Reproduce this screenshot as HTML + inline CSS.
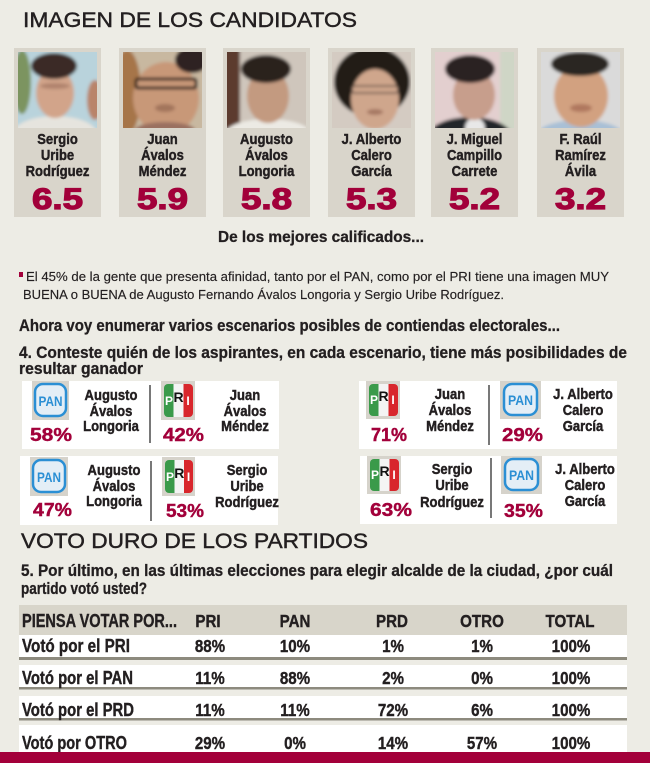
<!DOCTYPE html>
<html>
<head>
<meta charset="utf-8">
<style>
html,body{margin:0;padding:0;background:#edece5;}
body{width:650px;height:763px;overflow:hidden;}
svg{display:block;}
</style>
</head>
<body>
<svg width="650" height="763" viewBox="0 0 650 763" xmlns="http://www.w3.org/2000/svg" font-family="'Liberation Sans', Arial, sans-serif">
<defs>
  <filter id="bl" x="-10%" y="-10%" width="120%" height="120%"><feGaussianBlur stdDeviation="1.6"/></filter>
  <clipPath id="p1"><rect x="18" y="52" width="79" height="76"/></clipPath>
  <clipPath id="p2"><rect x="123" y="52" width="79" height="76"/></clipPath>
  <clipPath id="p3"><rect x="227" y="52" width="79" height="76"/></clipPath>
  <clipPath id="p4"><rect x="332" y="52" width="79" height="76"/></clipPath>
  <clipPath id="p5"><rect x="435" y="52" width="79" height="76"/></clipPath>
  <clipPath id="p6"><rect x="541" y="52" width="79" height="76"/></clipPath>
</defs>

<rect width="650" height="763" fill="#edece5"/>

<!-- Title -->
<text x="23" y="27" font-size="21.5" fill="#231f20" stroke="#231f20" stroke-width="0.45" textLength="334" lengthAdjust="spacingAndGlyphs">IMAGEN DE LOS CANDIDATOS</text>

<!-- Cards -->
<g fill="#d9d5cb">
  <rect x="14" y="48" width="87" height="169"/>
  <rect x="119" y="48" width="87" height="169"/>
  <rect x="223" y="48" width="87" height="169"/>
  <rect x="328" y="48" width="87" height="169"/>
  <rect x="431" y="48" width="87" height="169"/>
  <rect x="537" y="48" width="87" height="169"/>
</g>

<!-- Photo 1 -->
<g clip-path="url(#p1)"><g filter="url(#bl)">
  <rect x="14" y="48" width="90" height="84" fill="#b9d3dc"/>
  <ellipse cx="22" cy="82" rx="9" ry="32" fill="#7c9461"/>
  <ellipse cx="55" cy="134" rx="42" ry="18" fill="#e6e4de"/>
  <ellipse cx="55" cy="93" rx="19" ry="25" fill="#d2a48a"/>
  <ellipse cx="54" cy="66" rx="23" ry="13" fill="#3b2c25"/>
  <ellipse cx="55" cy="86" rx="15" ry="3" fill="#9a6e5a" opacity=".6"/>
  <ellipse cx="95" cy="100" rx="8" ry="20" fill="#b9846a"/>
</g></g>
<!-- Photo 2 -->
<g clip-path="url(#p2)"><g filter="url(#bl)">
  <rect x="119" y="48" width="90" height="84" fill="#c8b8a0"/>
  <ellipse cx="127" cy="92" rx="14" ry="42" fill="#a6754a"/>
  <ellipse cx="166" cy="98" rx="33" ry="36" fill="#c89878"/>
  <ellipse cx="192" cy="60" rx="17" ry="13" fill="#2e2220"/>
  <rect x="136" y="79" width="60" height="9" rx="2" fill="none" stroke="#2a1e18" stroke-width="3"/>
  <ellipse cx="165" cy="108" rx="10" ry="4" fill="#8a5c48" opacity=".6"/>
  <ellipse cx="165" cy="130" rx="30" ry="8" fill="#9a7060"/>
</g></g>
<!-- Photo 3 -->
<g clip-path="url(#p3)"><g filter="url(#bl)">
  <rect x="223" y="48" width="90" height="84" fill="#cfc6bc"/>
  <rect x="223" y="48" width="17" height="84" fill="#5b3b2f"/>
  <ellipse cx="268" cy="133" rx="42" ry="14" fill="#eceae4"/>
  <ellipse cx="268" cy="96" rx="21" ry="27" fill="#c39a80"/>
  <ellipse cx="266" cy="69" rx="25" ry="14" fill="#2b221e"/>
</g></g>
<!-- Photo 4 -->
<g clip-path="url(#p4)"><g filter="url(#bl)">
  <rect x="328" y="48" width="90" height="84" fill="#d4cbc2"/>
  <ellipse cx="372" cy="82" rx="38" ry="35" fill="#211a16"/>
  <ellipse cx="375" cy="99" rx="24" ry="30" fill="#cfa68c"/>
  <rect x="352" y="86" width="46" height="7" rx="2" fill="none" stroke="#5a4a40" stroke-width="1.5"/>
  <ellipse cx="375" cy="112" rx="8" ry="3" fill="#8a5a48" opacity=".6"/>
</g></g>
<!-- Photo 5 -->
<g clip-path="url(#p5)"><g filter="url(#bl)">
  <rect x="431" y="48" width="90" height="84" fill="#e3cfcf"/>
  <rect x="500" y="48" width="20" height="84" fill="#cfd6c6"/>
  <ellipse cx="470" cy="137" rx="42" ry="20" fill="#22262b"/>
  <ellipse cx="475" cy="128" rx="10" ry="10" fill="#e8e8e8"/>
  <ellipse cx="474" cy="95" rx="21" ry="25" fill="#c79e8c"/>
  <ellipse cx="470" cy="69" rx="25" ry="14" fill="#2b2222"/>
</g></g>
<!-- Photo 6 -->
<g clip-path="url(#p6)"><g filter="url(#bl)">
  <rect x="537" y="48" width="90" height="84" fill="#dadada"/>
  <ellipse cx="580" cy="136" rx="44" ry="16" fill="#a9c0d6"/>
  <ellipse cx="581" cy="96" rx="27" ry="31" fill="#d2a180"/>
  <ellipse cx="580" cy="64" rx="29" ry="12" fill="#2c2622"/>
  <ellipse cx="581" cy="108" rx="11" ry="4" fill="#9a5e48" opacity=".6"/>
</g></g>

<!-- Card names -->
<g font-size="15" font-weight="bold" fill="#231f20" stroke="#231f20" stroke-width="0.45" text-anchor="middle">
  <text transform="translate(57.5,144) scale(0.87,1)">Sergio</text>
  <text transform="translate(57.5,160) scale(0.87,1)">Uribe</text>
  <text transform="translate(57.5,176) scale(0.87,1)">Rodríguez</text>

  <text transform="translate(162.5,144) scale(0.87,1)">Juan</text>
  <text transform="translate(162.5,160) scale(0.87,1)">Ávalos</text>
  <text transform="translate(162.5,176) scale(0.87,1)">Méndez</text>

  <text transform="translate(266.5,144) scale(0.87,1)">Augusto</text>
  <text transform="translate(266.5,160) scale(0.87,1)">Ávalos</text>
  <text transform="translate(266.5,176) scale(0.87,1)">Longoria</text>

  <text transform="translate(371.5,144) scale(0.87,1)">J. Alberto</text>
  <text transform="translate(371.5,160) scale(0.87,1)">Calero</text>
  <text transform="translate(371.5,176) scale(0.87,1)">García</text>

  <text transform="translate(474.5,144) scale(0.87,1)">J. Miguel</text>
  <text transform="translate(474.5,160) scale(0.87,1)">Campillo</text>
  <text transform="translate(474.5,176) scale(0.87,1)">Carrete</text>

  <text transform="translate(580.5,144) scale(0.87,1)">F. Raúl</text>
  <text transform="translate(580.5,160) scale(0.87,1)">Ramírez</text>
  <text transform="translate(580.5,176) scale(0.87,1)">Ávila</text>
</g>

<!-- Card scores -->
<g font-size="30" font-weight="bold" fill="#a2003a" stroke="#a2003a" stroke-width="1.2" text-anchor="middle">
  <text x="57.5" y="209" textLength="51" lengthAdjust="spacingAndGlyphs">6.5</text>
  <text x="162.5" y="209" textLength="51" lengthAdjust="spacingAndGlyphs">5.9</text>
  <text x="266.5" y="209" textLength="51" lengthAdjust="spacingAndGlyphs">5.8</text>
  <text x="371.5" y="209" textLength="51" lengthAdjust="spacingAndGlyphs">5.3</text>
  <text x="474.5" y="209" textLength="51" lengthAdjust="spacingAndGlyphs">5.2</text>
  <text x="580.5" y="209" textLength="51" lengthAdjust="spacingAndGlyphs">3.2</text>
</g>

<text x="218" y="242" font-size="16" font-weight="bold" fill="#231f20" stroke="#231f20" stroke-width="0.3" textLength="206" lengthAdjust="spacingAndGlyphs">De los mejores calificados...</text>

<!-- Bullet note -->
<rect x="19" y="272" width="4" height="5" fill="#a2003a"/>
<text x="26" y="281" font-size="13" fill="#231f20" stroke="#231f20" stroke-width="0.15" textLength="583" lengthAdjust="spacingAndGlyphs">El 45% de la gente que presenta afinidad, tanto por el PAN, como por el PRI  tiene una imagen MUY</text>
<text x="23" y="299" font-size="13" fill="#231f20" stroke="#231f20" stroke-width="0.15" textLength="481" lengthAdjust="spacingAndGlyphs">BUENA o BUENA de Augusto Fernando Ávalos Longoria y Sergio Uribe Rodríguez.</text>

<g font-size="16.5" font-weight="bold" fill="#231f20" stroke="#231f20" stroke-width="0.3">
  <text x="19" y="331" textLength="541" lengthAdjust="spacingAndGlyphs">Ahora voy enumerar varios escenarios posibles de contiendas electorales...</text>
  <text x="19" y="358" textLength="608" lengthAdjust="spacingAndGlyphs">4. Conteste quién de los aspirantes, en cada escenario, tiene más posibilidades de</text>
  <text x="19" y="374" textLength="124" lengthAdjust="spacingAndGlyphs">resultar ganador</text>
</g>

<!-- Scenario boxes -->
<g fill="#ffffff">
  <rect x="22" y="381" width="257" height="68"/>
  <rect x="20" y="456" width="258" height="69"/>
  <rect x="359" y="381" width="258" height="68"/>
  <rect x="360" y="456" width="257" height="68"/>
</g>

<!-- Logo boxes: PAN -->
<g>
  <rect x="32" y="381" width="37" height="39" fill="#d6d3cb"/>
  <rect x="35" y="384" width="31" height="32" rx="8" fill="#e4eef6" stroke="#2b8fd4" stroke-width="2.5"/>
  <text x="50.5" y="406" font-size="14" font-weight="bold" fill="#2b8fd4" text-anchor="middle" textLength="24" lengthAdjust="spacingAndGlyphs">PAN</text>

  <rect x="30" y="457" width="38" height="39" fill="#d6d3cb"/>
  <rect x="33" y="460" width="32" height="32" rx="8" fill="#e4eef6" stroke="#2b8fd4" stroke-width="2.5"/>
  <text x="49" y="482" font-size="14" font-weight="bold" fill="#2b8fd4" text-anchor="middle" textLength="24" lengthAdjust="spacingAndGlyphs">PAN</text>

  <rect x="500" y="381" width="41" height="38" fill="#d6d3cb"/>
  <rect x="504" y="384" width="33" height="31" rx="8" fill="#e4eef6" stroke="#2b8fd4" stroke-width="2.5"/>
  <text x="520.5" y="405" font-size="14" font-weight="bold" fill="#2b8fd4" text-anchor="middle" textLength="25" lengthAdjust="spacingAndGlyphs">PAN</text>

  <rect x="501" y="456" width="41" height="38" fill="#d6d3cb"/>
  <rect x="505" y="459" width="33" height="31" rx="8" fill="#e4eef6" stroke="#2b8fd4" stroke-width="2.5"/>
  <text x="521.5" y="480" font-size="14" font-weight="bold" fill="#2b8fd4" text-anchor="middle" textLength="25" lengthAdjust="spacingAndGlyphs">PAN</text>
</g>

<!-- Logo boxes: PRI -->
<g>
  <rect x="161" y="381" width="34" height="39" fill="#d6d3cb"/>
  <rect x="164" y="384" width="9.5" height="33" rx="4" fill="#3a9a4a"/><rect x="168" y="384" width="6" height="33" fill="#3a9a4a"/>
  <rect x="173.5" y="384" width="10" height="33" fill="#f4f4f4"/>
  <rect x="183.5" y="384" width="9.5" height="33" rx="4" fill="#d8262c"/><rect x="183.5" y="384" width="5" height="33" fill="#d8262c"/>
  <text x="169" y="405" font-size="12" font-weight="bold" fill="#fff" text-anchor="middle">P</text>
  <text x="178.5" y="402" font-size="14" font-weight="bold" fill="#111" text-anchor="middle">R</text>
  <text x="188" y="405" font-size="12" font-weight="bold" fill="#fff" text-anchor="middle">I</text>

  <rect x="162" y="457" width="33" height="39" fill="#d6d3cb"/>
  <rect x="165" y="460" width="9.5" height="33" rx="4" fill="#3a9a4a"/><rect x="169" y="460" width="6" height="33" fill="#3a9a4a"/>
  <rect x="174.5" y="460" width="9.5" height="33" fill="#f4f4f4"/>
  <rect x="184" y="460" width="9" height="33" rx="4" fill="#d8262c"/><rect x="184" y="460" width="5" height="33" fill="#d8262c"/>
  <text x="170" y="481" font-size="12" font-weight="bold" fill="#fff" text-anchor="middle">P</text>
  <text x="179.3" y="478" font-size="14" font-weight="bold" fill="#111" text-anchor="middle">R</text>
  <text x="188.5" y="481" font-size="12" font-weight="bold" fill="#fff" text-anchor="middle">I</text>

  <rect x="366" y="381" width="34" height="38" fill="#d6d3cb"/>
  <rect x="369" y="384" width="9.5" height="32" rx="4" fill="#3a9a4a"/><rect x="373" y="384" width="6" height="32" fill="#3a9a4a"/>
  <rect x="378.5" y="384" width="10" height="32" fill="#f4f4f4"/>
  <rect x="388.5" y="384" width="9.5" height="32" rx="4" fill="#d8262c"/><rect x="388.5" y="384" width="5" height="32" fill="#d8262c"/>
  <text x="374" y="404" font-size="12" font-weight="bold" fill="#fff" text-anchor="middle">P</text>
  <text x="383.5" y="401" font-size="14" font-weight="bold" fill="#111" text-anchor="middle">R</text>
  <text x="393" y="404" font-size="12" font-weight="bold" fill="#fff" text-anchor="middle">I</text>

  <rect x="367" y="456" width="34" height="38" fill="#d6d3cb"/>
  <rect x="370" y="459" width="9.5" height="32" rx="4" fill="#3a9a4a"/><rect x="374" y="459" width="6" height="32" fill="#3a9a4a"/>
  <rect x="379.5" y="459" width="10" height="32" fill="#f4f4f4"/>
  <rect x="389.5" y="459" width="9.5" height="32" rx="4" fill="#d8262c"/><rect x="389.5" y="459" width="5" height="32" fill="#d8262c"/>
  <text x="375" y="479" font-size="12" font-weight="bold" fill="#fff" text-anchor="middle">P</text>
  <text x="384.5" y="476" font-size="14" font-weight="bold" fill="#111" text-anchor="middle">R</text>
  <text x="394" y="479" font-size="12" font-weight="bold" fill="#fff" text-anchor="middle">I</text>
</g>

<!-- Dividers -->
<g stroke="#4a4a4a" stroke-width="1.5">
  <line x1="150" y1="385" x2="150" y2="443"/>
  <line x1="151" y1="461" x2="151" y2="521"/>
  <line x1="489" y1="385" x2="489" y2="445"/>
  <line x1="491" y1="458" x2="491" y2="518"/>
</g>

<!-- Percentages -->
<g font-size="18" font-weight="bold" fill="#a2003a" stroke="#a2003a" stroke-width="0.4">
  <text x="30" y="441" textLength="42" lengthAdjust="spacingAndGlyphs">58%</text>
  <text x="163" y="441" textLength="41" lengthAdjust="spacingAndGlyphs">42%</text>
  <text x="33" y="516" textLength="39" lengthAdjust="spacingAndGlyphs">47%</text>
  <text x="166" y="517" textLength="38" lengthAdjust="spacingAndGlyphs">53%</text>
  <text x="371" y="441" textLength="36" lengthAdjust="spacingAndGlyphs">71%</text>
  <text x="502" y="441" textLength="41" lengthAdjust="spacingAndGlyphs">29%</text>
  <text x="370" y="516" textLength="42" lengthAdjust="spacingAndGlyphs">63%</text>
  <text x="504" y="517" textLength="39" lengthAdjust="spacingAndGlyphs">35%</text>
</g>

<!-- Scenario names -->
<g font-size="15" font-weight="bold" fill="#231f20" stroke="#231f20" stroke-width="0.45" text-anchor="middle">
  <text transform="translate(111,400) scale(0.87,1)">Augusto</text>
  <text transform="translate(111,416) scale(0.87,1)">Ávalos</text>
  <text transform="translate(111,431) scale(0.87,1)">Longoria</text>

  <text transform="translate(245,400) scale(0.87,1)">Juan</text>
  <text transform="translate(245,416) scale(0.87,1)">Ávalos</text>
  <text transform="translate(245,431) scale(0.87,1)">Méndez</text>

  <text transform="translate(114,475) scale(0.87,1)">Augusto</text>
  <text transform="translate(114,491) scale(0.87,1)">Ávalos</text>
  <text transform="translate(114,506) scale(0.87,1)">Longoria</text>

  <text transform="translate(247,475) scale(0.87,1)">Sergio</text>
  <text transform="translate(247,491) scale(0.87,1)">Uribe</text>
  <text transform="translate(247,507) scale(0.87,1)">Rodríguez</text>

  <text transform="translate(450,399) scale(0.87,1)">Juan</text>
  <text transform="translate(450,415) scale(0.87,1)">Ávalos</text>
  <text transform="translate(450,431) scale(0.87,1)">Méndez</text>

  <text transform="translate(583,399) scale(0.87,1)">J. Alberto</text>
  <text transform="translate(583,415) scale(0.87,1)">Calero</text>
  <text transform="translate(583,431) scale(0.87,1)">García</text>

  <text transform="translate(452,474) scale(0.87,1)">Sergio</text>
  <text transform="translate(452,490) scale(0.87,1)">Uribe</text>
  <text transform="translate(452,507) scale(0.87,1)">Rodríguez</text>

  <text transform="translate(585,474) scale(0.87,1)">J. Alberto</text>
  <text transform="translate(585,490) scale(0.87,1)">Calero</text>
  <text transform="translate(585,506) scale(0.87,1)">García</text>
</g>

<!-- Section 2 -->
<text x="21" y="548" font-size="21.5" fill="#231f20" stroke="#231f20" stroke-width="0.45" textLength="347" lengthAdjust="spacingAndGlyphs">VOTO DURO DE LOS PARTIDOS</text>
<g font-size="16.5" font-weight="bold" fill="#231f20" stroke="#231f20" stroke-width="0.3">
  <text x="21" y="576" textLength="592" lengthAdjust="spacingAndGlyphs">5. Por último, en las últimas elecciones para elegir alcalde de la ciudad, ¿por cuál</text>
  <text x="21" y="594" textLength="126" lengthAdjust="spacingAndGlyphs">partido votó usted?</text>
</g>

<!-- Table -->
<rect x="19" y="605" width="608" height="30" fill="#d8d5ca"/>
<rect x="19" y="635" width="608" height="22" fill="#ffffff"/>
<rect x="19" y="657" width="608" height="3" fill="#8d8a7e"/>
<rect x="19" y="665" width="608" height="22" fill="#ffffff"/>
<rect x="19" y="687" width="608" height="2.5" fill="#8d8a7e"/>
<rect x="19" y="696" width="608" height="22" fill="#ffffff"/>
<rect x="19" y="718" width="608" height="2.5" fill="#8d8a7e"/>
<rect x="19" y="725" width="608" height="28" fill="#ffffff"/>

<g font-size="18" font-weight="bold" fill="#231f20" stroke="#231f20" stroke-width="0.4">
  <text x="22" y="627" textLength="155" lengthAdjust="spacingAndGlyphs">PIENSA VOTAR POR...</text>
  <text x="22" y="652" textLength="108" lengthAdjust="spacingAndGlyphs">Votó por el PRI</text>
  <text x="22" y="684" textLength="111" lengthAdjust="spacingAndGlyphs">Votó por el PAN</text>
  <text x="22" y="716" textLength="112" lengthAdjust="spacingAndGlyphs">Votó por el PRD</text>
  <text x="22" y="749" textLength="105" lengthAdjust="spacingAndGlyphs">Votó por OTRO</text>
</g>
<g font-size="18" font-weight="bold" fill="#231f20" stroke="#231f20" stroke-width="0.4" text-anchor="middle">
  <text transform="translate(208,627) scale(0.84,1)">PRI</text>
  <text transform="translate(295,627) scale(0.84,1)">PAN</text>
  <text transform="translate(392,627) scale(0.84,1)">PRD</text>
  <text transform="translate(482,627) scale(0.84,1)">OTRO</text>
  <text transform="translate(570,627) scale(0.84,1)">TOTAL</text>

  <text transform="translate(210,652) scale(0.84,1)">88%</text>
  <text transform="translate(295,652) scale(0.84,1)">10%</text>
  <text transform="translate(393,652) scale(0.84,1)">1%</text>
  <text transform="translate(482,652) scale(0.84,1)">1%</text>
  <text transform="translate(571,652) scale(0.84,1)">100%</text>

  <text transform="translate(210,684) scale(0.84,1)">11%</text>
  <text transform="translate(295,684) scale(0.84,1)">88%</text>
  <text transform="translate(393,684) scale(0.84,1)">2%</text>
  <text transform="translate(482,684) scale(0.84,1)">0%</text>
  <text transform="translate(571,684) scale(0.84,1)">100%</text>

  <text transform="translate(210,716) scale(0.84,1)">11%</text>
  <text transform="translate(295,716) scale(0.84,1)">11%</text>
  <text transform="translate(393,716) scale(0.84,1)">72%</text>
  <text transform="translate(482,716) scale(0.84,1)">6%</text>
  <text transform="translate(571,716) scale(0.84,1)">100%</text>

  <text transform="translate(210,749) scale(0.84,1)">29%</text>
  <text transform="translate(295,749) scale(0.84,1)">0%</text>
  <text transform="translate(393,749) scale(0.84,1)">14%</text>
  <text transform="translate(482,749) scale(0.84,1)">57%</text>
  <text transform="translate(571,749) scale(0.84,1)">100%</text>
</g>

<!-- Bottom bar -->
<rect x="0" y="752" width="650" height="11" fill="#a3003a"/>
</svg>
</body>
</html>
